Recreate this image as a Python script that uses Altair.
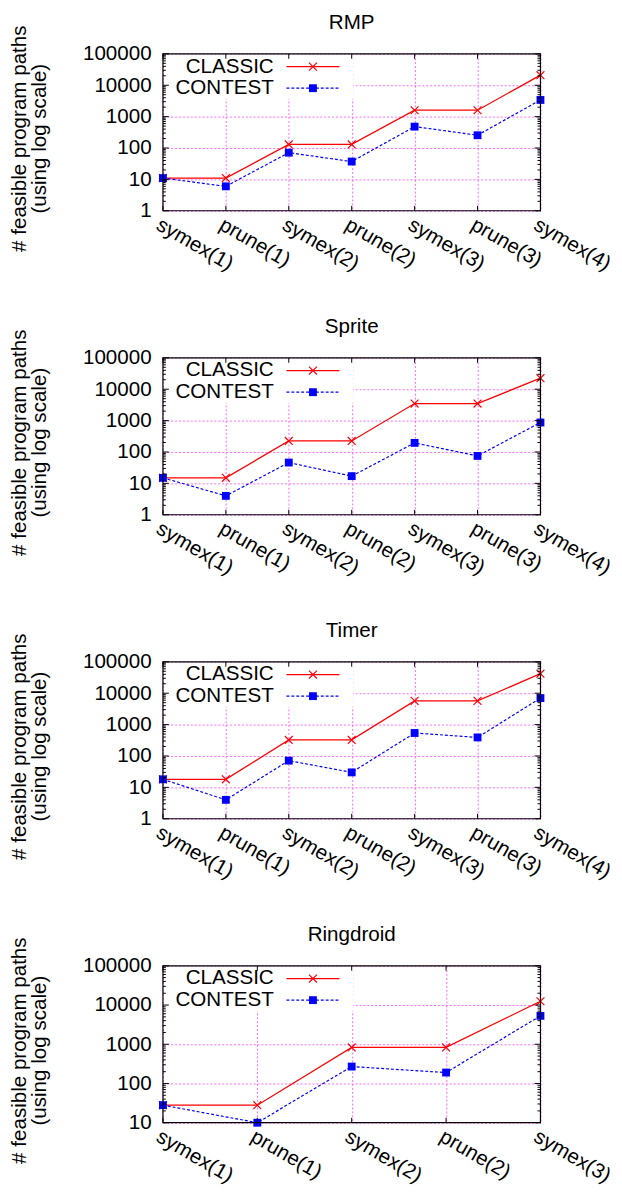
import altair as alt
import pandas as pd

FONT = "Liberation Sans"
FS = 21
W, H = 385, 160
GRID = "#ff66ff"
RED = "#ff0000"
BLUE = "#0000ff"
XPATH = "M-1,-1L1,1M-1,1L1,-1"

steps7 = ["symex(1)", "prune(1)", "symex(2)", "prune(2)", "symex(3)", "prune(3)", "symex(4)"]
steps5 = ["symex(1)", "prune(1)", "symex(2)", "prune(2)", "symex(3)"]

rmp_classic = [11, 11, 130, 130, 1600, 1600, 21000]
rmp_contest = [11, 6, 71, 37, 480, 255, 3400]
sprite_classic = [15, 15, 225, 225, 3500, 3500, 22500]
sprite_contest = [15, 4, 46, 17, 195, 75, 870]
timer_classic = [18, 18, 325, 325, 5700, 5700, 42000]
timer_contest = [18, 4, 71, 30, 540, 390, 7000]
ring_classic = [28, 28, 830, 830, 12500]
ring_contest = [28, 10, 270, 190, 5300]

titles = ["RMP", "Sprite", "Timer", "Ringdroid"]
series_names = ["CLASSIC", "CONTEST"]
major_ticks = [1, 10, 100, 1000, 10000, 100000]
ytitle = ["# feasible program paths", "(using log scale)"]

one = pd.DataFrame({"k": [0]})


def panel(title, steps, classic, contest, ymin):
    n = len(steps)
    df = pd.DataFrame({
        "step": steps * 2,
        "idx": list(range(n)) * 2,
        "series": [series_names[0]] * n + [series_names[1]] * n,
        "value": classic + contest,
    })
    majors = [v for v in major_ticks if v >= ymin]
    minors = [m * 10 ** e for e in range(6) for m in range(2, 10) if ymin < m * 10 ** e < 100000]
    tick_df = pd.DataFrame({"value": majors + minors, "len": [6] * len(majors) + [3] * len(minors)})
    step_df = pd.DataFrame({"step": steps})

    xsc = alt.Scale(type="point", domain=steps, padding=0)
    ysc = alt.Scale(type="log", domain=[ymin, 100000], nice=False)

    xaxis = alt.Axis(title=None, labelAngle=30, labelAlign="left", labelBaseline="top",
                     labelPadding=3, labelFont=FONT, labelFontSize=FS, labelColor="black",
                     ticks=False, domain=False, grid=True, gridColor=GRID, gridDash=[2, 2],
                     gridWidth=1, labelOverlap=False)
    yaxis = alt.Axis(values=majors, format="d", labelFont=FONT, labelFontSize=FS, labelColor="black",
                     labelPadding=12, ticks=False, domain=False, grid=True, gridColor=GRID,
                     gridDash=[2, 2], gridWidth=1, title=ytitle, titleFont=FONT, titleFontSize=FS,
                     titleFontWeight="normal", titleColor="black", titleX=-146, titleY=H / 2 + 6,
                     titleAlign="center", titleBaseline="middle", titleLineHeight=20, titleAngle=270)

    X = alt.X("step:N", scale=xsc, axis=xaxis)
    Y = alt.Y("value:Q", scale=ysc, axis=yaxis)

    base = alt.Chart(df).encode(x=X, y=Y, order=alt.Order("idx:Q"))

    legend_box = alt.Chart(one).mark_rect(fill="white", stroke=None).encode(
        x=alt.value(1), x2=alt.value(194), y=alt.value(1), y2=alt.value(46))

    line_c = base.transform_filter(alt.datum.series == "CLASSIC").mark_line(color=RED, strokeWidth=1.3)
    line_t = base.transform_filter(alt.datum.series == "CONTEST").mark_line(
        color=BLUE, strokeWidth=1.2, strokeDash=[3, 2])
    pts_c = base.transform_filter(alt.datum.series == "CLASSIC").mark_point(
        shape=XPATH, filled=False, stroke=RED, strokeWidth=1.2, size=64, opacity=1)
    pts_t = base.transform_filter(alt.datum.series == "CONTEST").mark_point(
        shape="square", filled=True, color=BLUE, size=64, opacity=1)

    def yrule(x1, x2, ln):
        return alt.Chart(tick_df).transform_filter(alt.datum.len == ln).mark_rule(
            color="black", strokeWidth=1).encode(y=Y, x=alt.value(x1), x2=alt.value(x2))

    yt = [yrule(0, 6, 6), yrule(0, 3, 3), yrule(W - 6, W, 6), yrule(W - 3, W, 3)]
    xt_bot = alt.Chart(step_df).mark_rule(color="black", strokeWidth=1).encode(
        x=X, y=alt.value(H - 5), y2=alt.value(H))
    xt_top = alt.Chart(step_df).mark_rule(color="black", strokeWidth=1).encode(
        x=X, y=alt.value(0), y2=alt.value(5))

    frame = alt.Chart(one).mark_rect(filled=False, stroke="black", strokeWidth=1.2).encode(
        x=alt.value(0), x2=alt.value(W), y=alt.value(0), y2=alt.value(H))

    title_mark = alt.Chart(one).mark_text(text=title, align="center", baseline="middle", font=FONT,
                                          fontSize=FS, color="black").encode(
        x=alt.value(W / 2), y=alt.value(-31))

    leg = []
    for i, (name, yy) in enumerate(zip(series_names, [13, 35])):
        leg.append(alt.Chart(one).mark_text(text=name, align="right", baseline="middle", font=FONT,
                                             fontSize=FS, color="black").encode(
            x=alt.value(113), y=alt.value(yy)))
        if i == 0:
            leg.append(alt.Chart(one).mark_rule(color=RED, strokeWidth=1.3).encode(
                x=alt.value(126), x2=alt.value(180), y=alt.value(yy)))
            leg.append(alt.Chart(one).mark_point(shape=XPATH, filled=False, stroke=RED, strokeWidth=1.2,
                                                 size=64, opacity=1).encode(x=alt.value(153), y=alt.value(yy)))
        else:
            leg.append(alt.Chart(one).mark_rule(color=BLUE, strokeWidth=1.2, strokeDash=[3, 2]).encode(
                x=alt.value(126), x2=alt.value(180), y=alt.value(yy)))
            leg.append(alt.Chart(one).mark_point(shape="square", filled=True, color=BLUE,
                                                 size=64, opacity=1).encode(x=alt.value(153), y=alt.value(yy)))

    return alt.layer(
        legend_box, line_c, line_t, pts_c, pts_t, *yt, xt_bot, xt_top, frame, title_mark, *leg
    ).properties(width=W, height=H)


panels = [
    panel(titles[0], steps7, rmp_classic, rmp_contest, 1),
    panel(titles[1], steps7, sprite_classic, sprite_contest, 1),
    panel(titles[2], steps7, timer_classic, timer_contest, 1),
    panel(titles[3], steps5, ring_classic, ring_contest, 10),
]

chart = alt.vconcat(*panels, spacing=43,
                    padding={"top": -7, "left": 0, "right": 0, "bottom": 0}).configure_view(stroke=None)

chart.save("out.html", embed_options={"renderer": "svg", "actions": False})
